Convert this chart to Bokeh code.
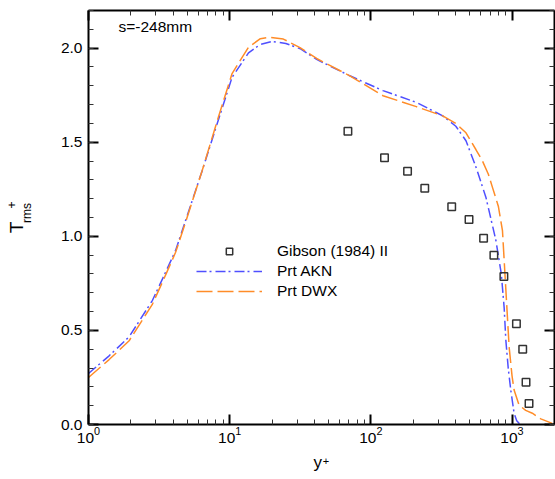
from bokeh.plotting import figure
from bokeh.models import (LogAxis, LinearAxis, FixedTicker, SingleIntervalTicker, PrintfTickFormatter,
                          LogTickFormatter, Range1d, Label, Legend, LegendItem, LogScale)
from bokeh.embed import file_html
from bokeh.resources import INLINE
import math

FONT = "Liberation Sans"

# ---- data ----
gibson_x = [68.8, 125, 182, 241, 374, 496, 629, 744, 876, 1075, 1191, 1257, 1320]
gibson_y = [1.558, 1.417, 1.346, 1.256, 1.157, 1.090, 0.990, 0.900, 0.786, 0.535, 0.400, 0.224, 0.112]

akn_x = [1, 1.4, 1.94, 2.84, 3.52, 4.14, 4.87, 5.43, 6.39, 8.37, 10.4, 13.6, 16.5, 19.9, 25, 32,
         41.3, 71, 122, 210, 323, 400, 472, 556, 653, 769, 840, 880, 904, 940, 980, 1035, 1080, 1122, 1150]
akn_y = [0.271, 0.365, 0.466, 0.660, 0.81, 0.925, 1.084, 1.19, 1.349, 1.625, 1.845, 1.975, 2.02, 2.035,
         2.025, 1.995, 1.94, 1.853, 1.774, 1.712, 1.64, 1.585, 1.508, 1.367, 1.208, 0.978, 0.80, 0.62,
         0.45, 0.30, 0.183, 0.06, 0.02, 0.006, 0.0]

dwx_x = [1, 1.4, 1.94, 2.84, 3.52, 4.14, 4.87, 5.43, 6.39, 8.37, 10.4, 13.6, 16.5, 19, 24, 31.5, 41.3,
         71, 122, 210, 323, 400, 472, 556, 618, 680, 727, 800, 856, 904, 954, 1000, 1035, 1122, 1250,
         1393, 1600, 1927]
dwx_y = [0.25, 0.345, 0.445, 0.64, 0.795, 0.915, 1.075, 1.185, 1.35, 1.64, 1.865, 2.005, 2.05, 2.058,
         2.048, 2.003, 1.945, 1.853, 1.747, 1.689, 1.64, 1.60, 1.55, 1.46, 1.40, 1.33, 1.26, 1.16, 1.03,
         0.72, 0.413, 0.26, 0.183, 0.103, 0.075, 0.06, 0.03, 0.006]

x_major = [1, 10, 100, 1000]
x_minor = [m * 10 ** k for k in range(4) for m in range(2, 10)]

legend_labels = ["Gibson (1984) II", "Prt AKN", "Prt DWX"]
note_text = "s=-248mm"

# ---- figure ----
p = figure(width=555, height=479, x_axis_type=None, y_axis_type=None,
           x_range=Range1d(1, 2000), y_range=Range1d(0, 2.2),
           output_backend="svg", toolbar_location=None,
           min_border_left=88, min_border_right=1, min_border_top=10, min_border_bottom=55)
p.x_scale = LogScale()
p.xgrid.visible = False
p.ygrid.visible = False
p.outline_line_color = None
p.background_fill_color = "white"
p.border_fill_color = "white"


def style(ax, labels=True):
    ax.axis_line_width = 2
    ax.axis_line_color = "black"
    ax.major_tick_in = 10
    ax.major_tick_out = 0
    ax.minor_tick_in = 5
    ax.minor_tick_out = 0
    ax.major_tick_line_width = 2
    ax.minor_tick_line_width = 1
    ax.major_tick_line_color = "black"
    ax.minor_tick_line_color = "#333333"
    ax.major_label_text_font = FONT
    ax.major_label_text_color = "black"
    if labels:
        ax.major_label_text_font_size = "15.5px"
    else:
        ax.major_label_text_font_size = "1px"
        ax.major_label_text_alpha = 0
        ax.major_label_standoff = 0


xt = FixedTicker(ticks=x_major, minor_ticks=x_minor)
yt = SingleIntervalTicker(interval=0.5, num_minor_ticks=5)

xb = LogAxis(ticker=xt, formatter=LogTickFormatter())
style(xb)
xb.major_label_standoff = 2
p.add_layout(xb, "below")

xa = LinearAxis(ticker=xt, formatter=PrintfTickFormatter(format="%d"))
style(xa, labels=False)
p.add_layout(xa, "above")

yl = LinearAxis(ticker=yt, formatter=PrintfTickFormatter(format="%.1f"))
style(yl)
yl.major_label_standoff = 6
p.add_layout(yl, "left")

yr = LinearAxis(ticker=yt, formatter=PrintfTickFormatter(format="%.1f"))
style(yr, labels=False)
p.add_layout(yr, "right")

# ---- glyphs ----
r_akn = p.line(akn_x, akn_y, line_color="#4f4fff", line_width=1.5, line_dash="10 3 2 4")
r_dwx = p.line(dwx_x, dwx_y, line_color="#ff8c28", line_width=1.5, line_dash="16 5")
r_gib = p.scatter(gibson_x, gibson_y, marker="square", size=7.5, fill_color=None,
                  line_color="#333333", line_width=1.5)

legend = Legend(items=[LegendItem(label=legend_labels[0], renderers=[r_gib]),
                       LegendItem(label=legend_labels[1], renderers=[r_akn]),
                       LegendItem(label=legend_labels[2], renderers=[r_dwx])],
                location=(108, 124), margin=0, padding=0, spacing=2,
                glyph_width=66, glyph_height=16, label_height=16, label_standoff=15,
                label_text_font=FONT, label_text_font_size="15.5px", label_text_color="black",
                border_line_alpha=0, background_fill_alpha=0)
p.add_layout(legend, "center")

# ---- annotation texts ----
p.add_layout(Label(x=30, y=398, x_units="screen", y_units="screen", text=note_text,
                   text_font=FONT, text_font_size="15.5px", text_baseline="middle",
                   text_color="black"))

# y axis title  T_rms^+  (side panel labels)
p.add_layout(Label(x=-20, y=424 - 227, x_units="screen", y_units="screen", text="T",
                   angle=math.pi / 2, text_font=FONT, text_font_size="19px",
                   text_align="center", text_baseline="alphabetic", text_color="black"), "left")
p.add_layout(Label(x=4, y=424 - 212.5, x_units="screen", y_units="screen", text="rms",
                   angle=math.pi / 2, text_font=FONT, text_font_size="12px",
                   text_align="center", text_baseline="alphabetic", text_color="black"), "left")
p.add_layout(Label(x=-2, y=424 - 204.5, x_units="screen", y_units="screen", text="+",
                   angle=math.pi / 2, text_font=FONT, text_font_size="12px",
                   text_align="center", text_baseline="middle", text_color="black"), "left")

# x axis title  y^+
p.add_layout(Label(x=225, y=2, x_units="screen", y_units="screen", text="y",
                   text_font=FONT, text_font_size="17px",
                   text_align="left", text_baseline="alphabetic", text_color="black"), "below")
p.add_layout(Label(x=237.5, y=12, x_units="screen", y_units="screen", text="+",
                   text_font=FONT, text_font_size="11px",
                   text_align="center", text_baseline="middle", text_color="black"), "below")

open("out.html", "w").write(file_html(p, INLINE))
